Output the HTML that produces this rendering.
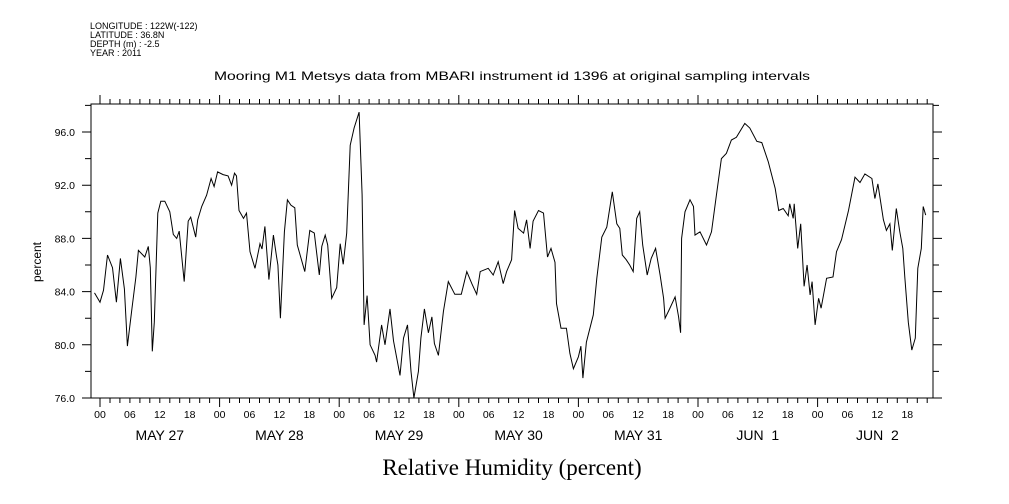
<!DOCTYPE html>
<html><head><meta charset="utf-8"><style>
html,body{margin:0;padding:0;background:#fff}
svg{display:block;font-family:"Liberation Sans",sans-serif}
</style></head><body>
<svg id="c" width="1009" height="504" viewBox="0 0 1009 504">
<g font-size="9" fill="#000">
<text x="90" y="29">LONGITUDE : 122W(-122)</text>
<text x="90" y="38">LATITUDE : 36.8N</text>
<text x="90" y="47">DEPTH (m) : -2.5</text>
<text x="90" y="56">YEAR : 2011</text>
</g>
<text x="512" y="80" font-size="12" text-anchor="middle" textLength="596" lengthAdjust="spacingAndGlyphs">Mooring M1 Metsys data from MBARI instrument id 1396 at original sampling intervals</text>
<text x="512" y="475" font-size="23" font-family="Liberation Serif, serif" text-anchor="middle">Relative Humidity (percent)</text>
<text transform="translate(41,262) rotate(-90)" font-size="12" text-anchor="middle">percent</text>
<rect x="91" y="104" width="842" height="294" fill="none" stroke="#000" stroke-width="1"/>
<g id="axes"></g>
<path id="line" fill="none" stroke="#000" stroke-width="1"/>
</svg>
<script>
const hours=[-1.1,0,0.7,1.5,2.5,3.3,4.1,4.9,5.5,6.4,7.2,7.7,9,9.7,10.1,10.5,10.9,11.6,12.2,13,14,14.7,15.4,15.9,16.9,17.7,18.2,19.2,19.6,20.4,21.4,22.3,22.9,23.6,24.7,25.7,26.4,27,27.4,27.9,28.8,29.4,30.1,31.1,32.1,32.5,33.1,33.9,34.8,35.4,35.7,36.2,37,37.6,38.3,39.1,39.6,41.1,42.1,43,44,44.5,45.2,45.7,46.5,47.5,48.2,48.8,49.5,50.2,51,52,52.6,53,53.6,54.2,55.2,55.5,56.5,57.2,58.2,58.9,60.2,60.9,61.7,62.4,63,63.9,64.4,65.1,65.9,66.6,67.1,67.9,68.9,69.9,71.2,72.5,73.6,74.6,75.6,76.3,77.9,78.9,79.9,80.9,81.6,82.6,83.2,83.9,85,85.6,86.3,86.9,88,89,89.8,90.5,91.3,91.6,92.5,93.6,94.3,95,96,96.5,96.9,97.6,99,99.7,100.7,101.7,102.8,103.7,104.3,104.8,105.6,106.3,107,107.7,108.3,108.9,109.8,110.6,111.5,112.4,113.1,113.4,114.3,115.4,116.1,116.5,116.7,117.4,118.4,119.1,119.4,120.4,121.7,122.7,123.7,124.7,125.7,126.7,127.7,129.4,130.4,131.8,132.8,134.1,135.5,136.2,137.1,138.1,138.4,139.1,139.3,140,140.6,141.3,141.9,142.5,142.9,143.5,144.2,144.7,145.8,147.1,147.8,148.8,150.2,151.5,152.5,153.5,154.9,155.5,156.1,157.2,157.8,158.5,159,159.8,160.5,161.1,161.5,162.2,162.9,163.6,164.1,164.8,165.2,165.7];
const humidity=[83.9,83.2,84.1,86.75,85.8,83.2,86.5,84.2,79.9,82.7,85.1,87.1,86.6,87.4,85.8,79.5,81.7,89.9,90.8,90.8,90.0,88.3,88.0,88.55,84.75,89.3,89.6,88.1,89.4,90.4,91.25,92.5,91.9,93.0,92.8,92.7,92.0,92.9,92.7,90.1,89.5,89.9,87.0,85.75,87.6,87.2,88.9,84.9,88.25,86.7,86,82.0,88.5,90.9,90.5,90.3,87.5,85.5,88.6,88.4,85.25,87.4,88.25,87.5,83.5,84.3,87.6,86.05,88.4,95.0,96.3,97.5,91.3,81.5,83.7,80.0,79.2,78.7,81.5,80.0,82.7,80.3,77.7,80.5,81.5,78,76,78,80.5,82.7,80.9,82.1,80.1,79.2,82.5,84.75,83.8,83.8,85.5,84.6,83.8,85.5,85.75,85.25,86.25,84.6,85.5,86.4,90.1,88.75,88.4,89.4,87.25,89.3,90.1,89.9,86.6,87.25,86.2,83.1,81.25,81.25,79.35,78.2,79.1,79.9,77.5,80.2,82.25,85.0,88.1,88.85,91.5,89.1,88.75,86.75,86.4,86.0,85.5,89.5,90.0,87.5,85.25,86.5,87.25,85.25,83.5,82,82.7,83.6,82.1,80.9,88.0,90.0,90.9,90.4,88.25,88.5,87.5,88.5,91.25,94.0,94.4,95.4,95.6,96.65,96.3,95.3,95.2,93.75,91.75,90.1,90.25,89.7,90.6,89.5,90.6,87.25,89.1,84.4,86.0,83.75,84.75,81.5,83.5,82.75,85.0,85.1,87.0,87.9,90.1,92.6,92.2,92.85,92.5,91.0,92.1,89.4,88.6,89.1,87.1,90.25,88.5,87.25,85.1,81.7,79.6,80.5,85.75,87.25,90.4,89.75];
const yTickLabels=["76.0","80.0","84.0","88.0","92.0","96.0"];
const dayLabels=["MAY 27","MAY 28","MAY 29","MAY 30","MAY 31","JUN\u00a0\u00a01","JUN\u00a0\u00a02"];
const hourLabels=["00","06","12","18"];
const NS="http://www.w3.org/2000/svg";
const L=91,R=933,T=104,B=398;
const xS=h=>100+h*119.6/24;
const yS=v=>398-(v-76)*13.3;
const ax=document.getElementById('axes');
function mk(tag,attrs,txt){const e=document.createElementNS(NS,tag);for(const k in attrs)e.setAttribute(k,attrs[k]);if(txt!==undefined)e.textContent=txt;ax.appendChild(e);return e;}
let d='';
for(let h=-0;h<=166;h+=2){const x=xS(h);if(x<L||x>R)continue;const major=h%24===0;const len=major?9:5;
d+=`M${x.toFixed(1)},${T}v${-len}M${x.toFixed(1)},${B}v${len}`;}
for(let v=76;v<=98;v+=2){const y=yS(v);if(y<T)continue;const len=(v%4===0)?9:6;d+=`M${L},${y.toFixed(1)}h${-len}M${R},${y.toFixed(1)}h${len}`;}
const tk=mk('path',{d:d,stroke:'#000','stroke-width':1,fill:'none'});


yTickLabels.forEach(s=>{const t=mk('text',{x:75,y:(yS(parseFloat(s))+4).toFixed(1),'font-size':10.5,'text-anchor':'end'},s);

});
for(let dI=0;dI<dayLabels.length;dI++){for(let k=0;k<4;k++){const h=dI*24+k*6;const t=mk('text',{x:xS(h).toFixed(1),y:418,'font-size':10.5,'text-anchor':'middle'},hourLabels[k]);

}
const t=mk('text',{x:xS(dI*24+12).toFixed(1),y:440,'font-size':14,'text-anchor':'middle'},dayLabels[dI]);

}
let p='';hours.forEach((h,i)=>{p+=(i?'L':'M')+xS(h).toFixed(1)+','+yS(humidity[i]).toFixed(1);});
document.getElementById('line').setAttribute('d',p);
</script>
</body></html>
